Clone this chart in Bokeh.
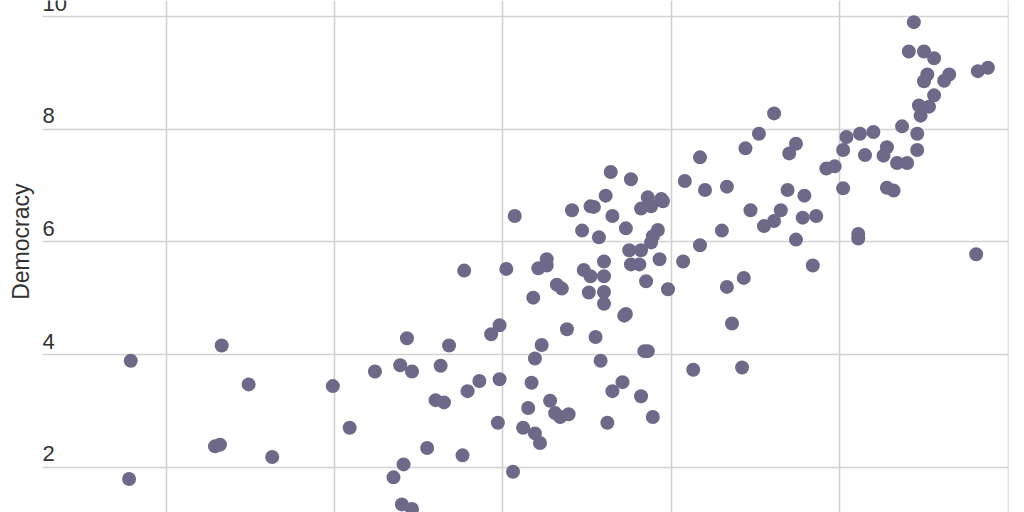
from bokeh.plotting import figure
from bokeh.models import Range1d, Grid, FixedTicker, Title, ColumnDataSource
from bokeh.core.properties import value
from bokeh.embed import file_html
from bokeh.resources import INLINE

# ---- data ----
development = [
    0.479, 0.478, 0.533, 0.549, 0.529, 0.532, 0.563, 0.599, 0.609, 0.624,
    0.643, 0.639, 0.646, 0.668, 0.663, 0.677, 0.686, 0.698, 0.679, 0.660,
    0.665, 0.697, 0.655, 0.676, 0.641, 0.635, 0.640, 0.646, 0.693, 0.698,
    0.706, 0.707, 0.702, 0.721, 0.726, 0.726, 0.718, 0.732, 0.735, 0.738,
    0.723, 0.719, 0.717, 0.715, 0.728, 0.731, 0.734, 0.739, 0.712, 0.719,
    0.722, 0.741, 0.752, 0.754, 0.747, 0.757, 0.761, 0.764, 0.776, 0.765,
    0.773, 0.786, 0.794, 0.788, 0.782, 0.795, 0.792, 0.789, 0.788, 0.775,
    0.782, 0.776, 0.781, 0.793, 0.760, 0.748, 0.752, 0.760, 0.751, 0.760,
    0.760, 0.785, 0.798, 0.773, 0.772, 0.755, 0.758, 0.784, 0.786, 0.771,
    0.765, 0.782, 0.762, 0.789, 0.813, 0.808, 0.817, 0.820, 0.817, 0.807,
    0.830, 0.833, 0.833, 0.836, 0.842, 0.843, 0.844, 0.852, 0.861, 0.874,
    0.870, 0.847, 0.865, 0.861, 0.855, 0.869, 0.879, 0.878, 0.886, 0.874,
    0.884, 0.892, 0.897, 0.902, 0.902, 0.904, 0.912, 0.920, 0.915, 0.928,
    0.926, 0.934, 0.940, 0.946, 0.946, 0.937, 0.928, 0.932, 0.911, 0.911,
    0.981, 0.948, 0.947, 0.953, 0.956, 0.952, 0.950, 0.965, 0.962, 0.982,
    0.988, 0.941, 0.950, 0.956, 0.944,
]
democracy = [
    3.89, 1.79, 4.16, 3.47, 2.37, 2.40, 2.18, 3.44, 2.70, 3.70,
    4.29, 3.81, 3.70, 4.16, 3.80, 5.49, 3.53, 3.56, 3.35, 3.19,
    3.15, 2.79, 2.34, 2.21, 2.05, 1.82, 1.34, 1.26, 4.36, 4.52,
    1.92, 6.46, 5.52, 5.53, 5.69, 5.58, 5.01, 5.24, 5.17, 4.45,
    4.17, 3.93, 3.50, 3.05, 3.18, 2.96, 2.89, 2.94, 2.70, 2.60,
    2.43, 6.56, 6.63, 6.62, 6.20, 6.08, 6.82, 7.24, 7.11, 6.46,
    6.24, 6.79, 6.76, 6.63, 6.59, 6.72, 6.21, 6.10, 5.99, 5.85,
    5.85, 5.60, 5.60, 5.69, 5.65, 5.50, 5.39, 5.39, 5.10, 5.11,
    4.90, 5.30, 5.16, 4.72, 4.69, 4.31, 3.89, 4.06, 4.06, 3.51,
    3.35, 3.26, 2.79, 2.89, 3.73, 7.08, 7.50, 6.92, 5.94, 5.65,
    6.20, 6.98, 5.20, 4.55, 3.77, 5.36, 7.66, 7.92, 8.28, 7.74,
    7.57, 6.56, 6.56, 6.37, 6.28, 6.92, 6.82, 6.43, 6.46, 6.04,
    5.58, 7.30, 7.34, 6.95, 7.63, 7.86, 7.92, 7.95, 7.54, 7.68,
    7.53, 7.40, 7.40, 7.63, 7.92, 8.05, 6.96, 6.91, 6.14, 6.06,
    5.78, 8.24, 8.42, 8.40, 8.60, 8.97, 8.85, 8.97, 8.86, 9.03,
    9.09, 9.38, 9.38, 9.26, 9.90,
]
x_grid = [0.5, 0.6, 0.7, 0.8, 0.9, 1.0]
y_ticks = [2, 4, 6, 8, 10]
y_tick_labels = ["2", "4", "6", "8", "10"]
y_title = "Democracy"

# ---- figure ----
X_START, X_END = 0.4266, 1.0002
Y_START, Y_END = 1.196, 10.284
DOT = "#6e6889"
TEXT = "#333333"

p = figure(
    width=1024, height=512,
    x_range=Range1d(X_START, X_END), y_range=Range1d(Y_START, Y_END),
    x_axis_location=None, y_axis_location=None,
    toolbar_location=None, output_backend="svg", title=None,
    min_border_left=42, min_border_right=16, min_border_top=0, min_border_bottom=0,
)
p.outline_line_color = None
p.background_fill_color = "white"
p.border_fill_color = "white"

p.add_layout(Grid(dimension=0, ticker=FixedTicker(ticks=x_grid),
                  grid_line_color="#cfcfcf", grid_line_width=1.5))
p.add_layout(Grid(dimension=1, ticker=FixedTicker(ticks=y_ticks),
                  grid_line_color="#d2d2d2", grid_line_width=1.5))

src = ColumnDataSource(dict(x=development, y=democracy))
p.scatter("x", "y", source=src, marker="circle", size=14,
          fill_color=DOT, line_color=None)

lab = ColumnDataSource(dict(x=[X_START] * len(y_ticks), y=y_ticks, t=y_tick_labels))
p.text("x", "y", text="t", source=lab, text_align="left", text_baseline="bottom",
       y_offset=-6, text_font=value("Liberation Sans"), text_font_size="22px",
       text_color=TEXT)

p.add_layout(Title(text=y_title, align="right", offset=183, standoff=14,
                   vertical_align="top",
                   text_font="Liberation Sans", text_font_size="23px",
                   text_font_style="normal", text_color=TEXT), "left")

open("out.html", "w").write(file_html(p, INLINE))
